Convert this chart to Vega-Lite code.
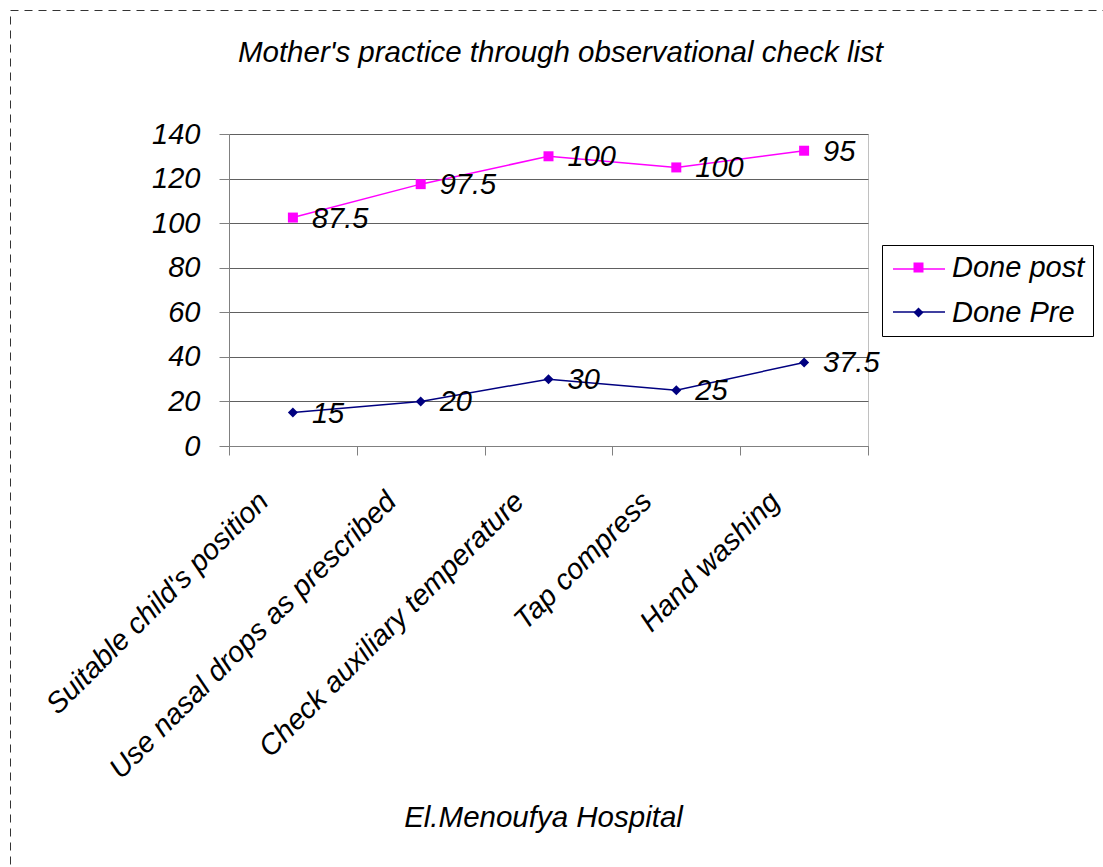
{
  "$schema": "https://vega.github.io/schema/vega-lite/v6.json",
  "width": 639,
  "height": 312,
  "autosize": "none",
  "padding": {"left": 229, "top": 134, "right": 235, "bottom": 421},
  "background": "white",
  "config": {
    "font": "Liberation Sans",
    "view": {"stroke": "#c0c0c0", "strokeWidth": 1}
  },
  "title": {
    "text": "Mother's practice through observational check list",
    "font": "Liberation Sans",
    "fontSize": 29.5,
    "fontStyle": "italic",
    "fontWeight": "normal",
    "color": "black",
    "offset": -59,
    "dx": 12
  },
  "data": {
    "values": [
      {"category": "Suitable child's position", "series": "Done Pre", "value": 15},
      {"category": "Use nasal drops as prescribed", "series": "Done Pre", "value": 20},
      {"category": "Check auxiliary temperature", "series": "Done Pre", "value": 30},
      {"category": "Tap compress", "series": "Done Pre", "value": 25},
      {"category": "Hand washing", "series": "Done Pre", "value": 37.5},
      {"category": "Suitable child's position", "series": "Done post", "value": 87.5},
      {"category": "Use nasal drops as prescribed", "series": "Done post", "value": 97.5},
      {"category": "Check auxiliary temperature", "series": "Done post", "value": 100},
      {"category": "Tap compress", "series": "Done post", "value": 100},
      {"category": "Hand washing", "series": "Done post", "value": 95}
    ]
  },
  "transform": [
    {"stack": "value", "groupby": ["category"], "sort": [{"field": "series", "order": "ascending"}], "as": ["y0", "y1"]}
  ],
  "resolve": {
    "scale": {"x": "independent", "y": "independent"},
    "axis": {"x": "independent", "y": "independent"}
  },
  "layer": [
    {
      "encoding": {
        "x": {
          "field": "category",
          "type": "nominal",
          "sort": ["Suitable child's position", "Use nasal drops as prescribed", "Check auxiliary temperature", "Tap compress", "Hand washing"],
          "scale": {"paddingInner": 0, "paddingOuter": 0},
          "axis": {
            "title": "El.Menoufya Hospital",
            "titleFont": "Liberation Sans",
            "titleFontSize": 29.5,
            "titleFontStyle": "italic",
            "titleFontWeight": "normal",
            "titleColor": "black",
            "titleX": 314,
            "titleY": 380,
            "titleAlign": "center",
            "titleBaseline": "alphabetic",
            "labelAngle": -45,
            "labelAlign": "right",
            "labelBaseline": "bottom",
            "labelFont": "Liberation Sans",
            "labelFontSize": 29,
            "labelFontStyle": "italic",
            "labelColor": "black",
            "labelPadding": 52,
            "labelOffset": -19,
            "labelLimit": 600,
            "tickBand": "extent",
            "tickSize": 9,
            "tickColor": "#808080",
            "domainColor": "#808080",
            "grid": false
          }
        },
        "y": {
          "field": "y1",
          "type": "quantitative",
          "scale": {"domain": [0, 140]},
          "axis": {
            "title": null,
            "values": [0, 20, 40, 60, 80, 100, 120, 140],
            "labelFont": "Liberation Sans",
            "labelFontSize": 29,
            "labelFontStyle": "italic",
            "labelColor": "black",
            "labelPadding": 19,
            "tickSize": 10,
            "tickColor": "#808080",
            "domainColor": "#808080",
            "grid": true,
            "gridColor": "#606060",
            "gridOpacity": 1
          }
        }
      },
      "layer": [
        {
          "mark": {"type": "line", "strokeWidth": 1.5},
          "encoding": {
            "stroke": {
              "field": "series",
              "type": "nominal",
              "scale": {"domain": ["Done Pre", "Done post"], "range": ["#000080", "#ff00ff"]},
              "legend": {
                "orient": "none",
                "legendX": 684,
                "legendY": 129,
                "title": null,
                "values": ["Done post", "Done Pre"],
                "padding": 0,
                "zindex": 2,
                "symbolType": "M-5.2,0H5.2",
                "symbolSize": 100,
                "symbolStrokeWidth": 1.5,
                "rowPadding": 34,
                "labelOpacity": 0,
                "labelFontSize": 1,
                "labelLimit": 1
              }
            }
          }
        },
        {
          "mark": {"type": "point", "filled": true, "opacity": 1, "size": 100},
          "encoding": {
            "color": {
              "field": "series",
              "type": "nominal",
              "scale": {"domain": ["Done post", "Done Pre"], "range": ["#ff00ff", "#000080"]},
              "legend": {
                "orient": "none",
                "legendX": 653,
                "legendY": 111,
                "title": null,
                "strokeColor": "black",
                "padding": 8,
                "zindex": 3,
                "labelFont": "Liberation Sans",
                "labelFontSize": 29,
                "labelFontStyle": "italic",
                "labelColor": "black",
                "labelOffset": 19,
                "symbolOffset": 14,
                "rowPadding": 15,
                "symbolSize": 100,
                "symbolStrokeWidth": 0
              }
            },
            "shape": {
              "field": "series",
              "type": "nominal",
              "scale": {"domain": ["Done post", "Done Pre"], "range": ["square", "diamond"]}
            }
          }
        },
        {
          "mark": {
            "type": "text",
            "align": "left",
            "baseline": "middle",
            "dx": 19,
            "dy": 1,
            "font": "Liberation Sans",
            "fontSize": 29,
            "fontStyle": "italic",
            "color": "black"
          },
          "encoding": {
            "text": {"field": "value", "type": "nominal"}
          }
        }
      ]
    },
    {
      "mark": {"type": "point", "opacity": 0, "size": 1},
      "encoding": {
        "x": {
          "field": "value",
          "type": "quantitative",
          "scale": {"domain": [0, 1], "range": [-219, 900], "zero": false, "nice": false, "clamp": true},
          "axis": {
            "orient": "top",
            "offset": 124,
            "title": null,
            "labels": false,
            "ticks": false,
            "grid": false,
            "domainDash": [8, 6],
            "domainColor": "#333333",
            "domainWidth": 1
          }
        },
        "y": {
          "field": "value",
          "type": "quantitative",
          "scale": {"domain": [0, 1], "range": [800, -124], "zero": false, "nice": false, "clamp": true},
          "axis": {
            "orient": "left",
            "offset": 219,
            "title": null,
            "labels": false,
            "ticks": false,
            "grid": false,
            "domainDash": [8, 6],
            "domainColor": "#333333",
            "domainWidth": 1
          }
        }
      }
    }
  ]
}
